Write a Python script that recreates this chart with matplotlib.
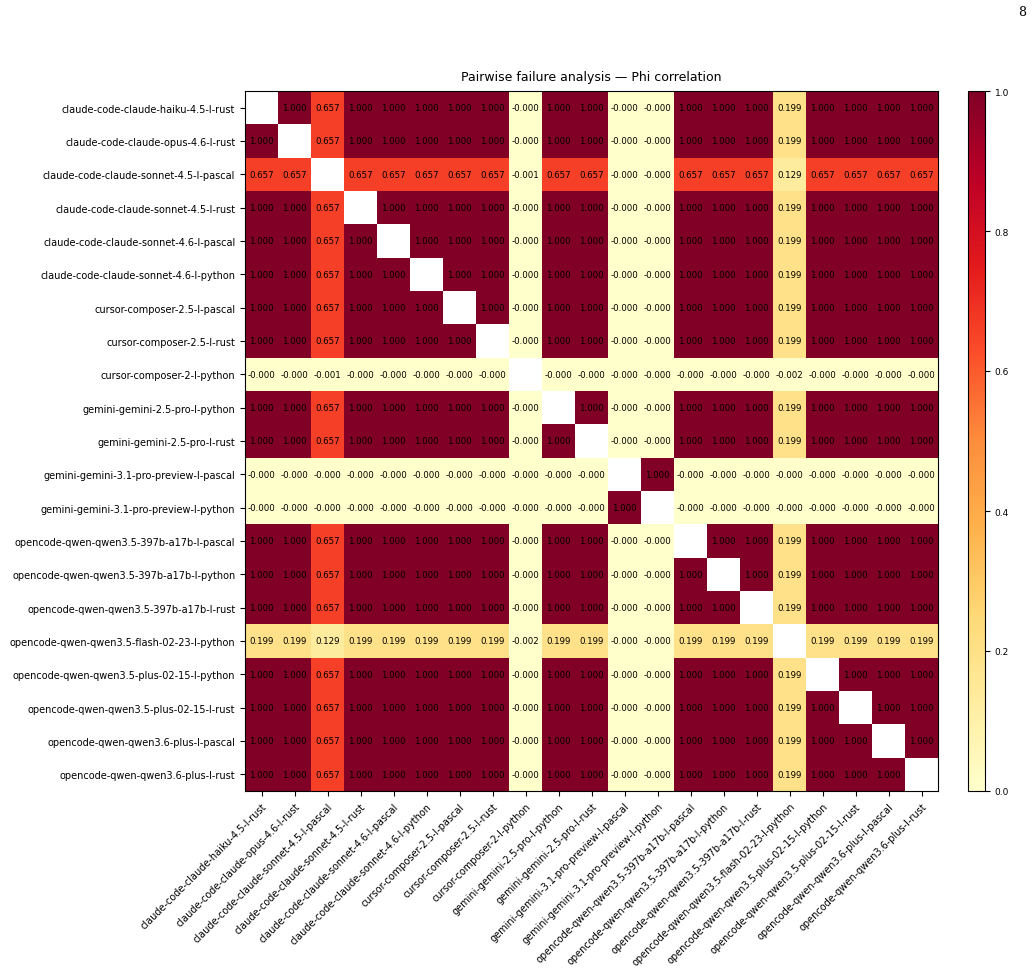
import numpy as np
import matplotlib
matplotlib.use("Agg")
import matplotlib.pyplot as plt

models = [
    "claude-code-claude-haiku-4.5-l-rust",
    "claude-code-claude-opus-4.6-l-rust",
    "claude-code-claude-sonnet-4.5-l-pascal",
    "claude-code-claude-sonnet-4.5-l-rust",
    "claude-code-claude-sonnet-4.6-l-pascal",
    "claude-code-claude-sonnet-4.6-l-python",
    "cursor-composer-2.5-l-pascal",
    "cursor-composer-2.5-l-rust",
    "cursor-composer-2-l-python",
    "gemini-gemini-2.5-pro-l-python",
    "gemini-gemini-2.5-pro-l-rust",
    "gemini-gemini-3.1-pro-preview-l-pascal",
    "gemini-gemini-3.1-pro-preview-l-python",
    "opencode-qwen-qwen3.5-397b-a17b-l-pascal",
    "opencode-qwen-qwen3.5-397b-a17b-l-python",
    "opencode-qwen-qwen3.5-397b-a17b-l-rust",
    "opencode-qwen-qwen3.5-flash-02-23-l-python",
    "opencode-qwen-qwen3.5-plus-02-15-l-python",
    "opencode-qwen-qwen3.5-plus-02-15-l-rust",
    "opencode-qwen-qwen3.6-plus-l-pascal",
    "opencode-qwen-qwen3.6-plus-l-rust",
]

N = np.nan
z = -0.0001
a = 0.657
b = 0.199
c = 0.129
phi = [
    [N, 1, a, 1, 1, 1, 1, 1, z, 1, 1, z, z, 1, 1, 1, b, 1, 1, 1, 1],
    [1, N, a, 1, 1, 1, 1, 1, z, 1, 1, z, z, 1, 1, 1, b, 1, 1, 1, 1],
    [a, a, N, a, a, a, a, a, -0.001, a, a, z, z, a, a, a, c, a, a, a, a],
    [1, 1, a, N, 1, 1, 1, 1, z, 1, 1, z, z, 1, 1, 1, b, 1, 1, 1, 1],
    [1, 1, a, 1, N, 1, 1, 1, z, 1, 1, z, z, 1, 1, 1, b, 1, 1, 1, 1],
    [1, 1, a, 1, 1, N, 1, 1, z, 1, 1, z, z, 1, 1, 1, b, 1, 1, 1, 1],
    [1, 1, a, 1, 1, 1, N, 1, z, 1, 1, z, z, 1, 1, 1, b, 1, 1, 1, 1],
    [1, 1, a, 1, 1, 1, 1, N, z, 1, 1, z, z, 1, 1, 1, b, 1, 1, 1, 1],
    [z, z, -0.001, z, z, z, z, z, N, z, z, z, z, z, z, z, -0.002, z, z, z, z],
    [1, 1, a, 1, 1, 1, 1, 1, z, N, 1, z, z, 1, 1, 1, b, 1, 1, 1, 1],
    [1, 1, a, 1, 1, 1, 1, 1, z, 1, N, z, z, 1, 1, 1, b, 1, 1, 1, 1],
    [z, z, z, z, z, z, z, z, z, z, z, N, 1, z, z, z, z, z, z, z, z],
    [z, z, z, z, z, z, z, z, z, z, z, 1, N, z, z, z, z, z, z, z, z],
    [1, 1, a, 1, 1, 1, 1, 1, z, 1, 1, z, z, N, 1, 1, b, 1, 1, 1, 1],
    [1, 1, a, 1, 1, 1, 1, 1, z, 1, 1, z, z, 1, N, 1, b, 1, 1, 1, 1],
    [1, 1, a, 1, 1, 1, 1, 1, z, 1, 1, z, z, 1, 1, N, b, 1, 1, 1, 1],
    [b, b, c, b, b, b, b, b, -0.002, b, b, z, z, b, b, b, N, b, b, b, b],
    [1, 1, a, 1, 1, 1, 1, 1, z, 1, 1, z, z, 1, 1, 1, b, N, 1, 1, 1],
    [1, 1, a, 1, 1, 1, 1, 1, z, 1, 1, z, z, 1, 1, 1, b, 1, N, 1, 1],
    [1, 1, a, 1, 1, 1, 1, 1, z, 1, 1, z, z, 1, 1, 1, b, 1, 1, N, 1],
    [1, 1, a, 1, 1, 1, 1, 1, z, 1, 1, z, z, 1, 1, 1, b, 1, 1, 1, N],
]
M = np.array(phi, dtype=float)
n = len(models)

fig = plt.figure(figsize=(10.34, 9.70), dpi=100)
ax = fig.add_axes([245/1034, 1-792/970, 693/1034, 700/970])
cax = fig.add_axes([968/1034, 1-792/970, 17/1034, 700/970])
im = ax.imshow(np.ma.masked_invalid(M), cmap="YlOrRd", vmin=0, vmax=1, aspect="auto")
for i in range(n):
    for j in range(n):
        if not np.isnan(M[i, j]):
            ax.text(j, i, f"{M[i, j]:.3f}", ha="center", va="center", fontsize=6.2, color="black")
ax.set_xticks(range(n))
ax.set_yticks(range(n))
ax.set_xticklabels(models, rotation=45, ha="right", rotation_mode="anchor", fontsize=7)
ax.set_yticklabels(models, fontsize=7)
ax.set_title("Pairwise failure analysis — Phi correlation", fontsize=9, pad=8)
cb = fig.colorbar(im, cax=cax)
cb.ax.tick_params(labelsize=6.5)
fig.text(1022/1034, 1-13/970, "8", ha="center", va="center", fontsize=9, family="DejaVu Serif")
fig.savefig("out.png", dpi=100)
